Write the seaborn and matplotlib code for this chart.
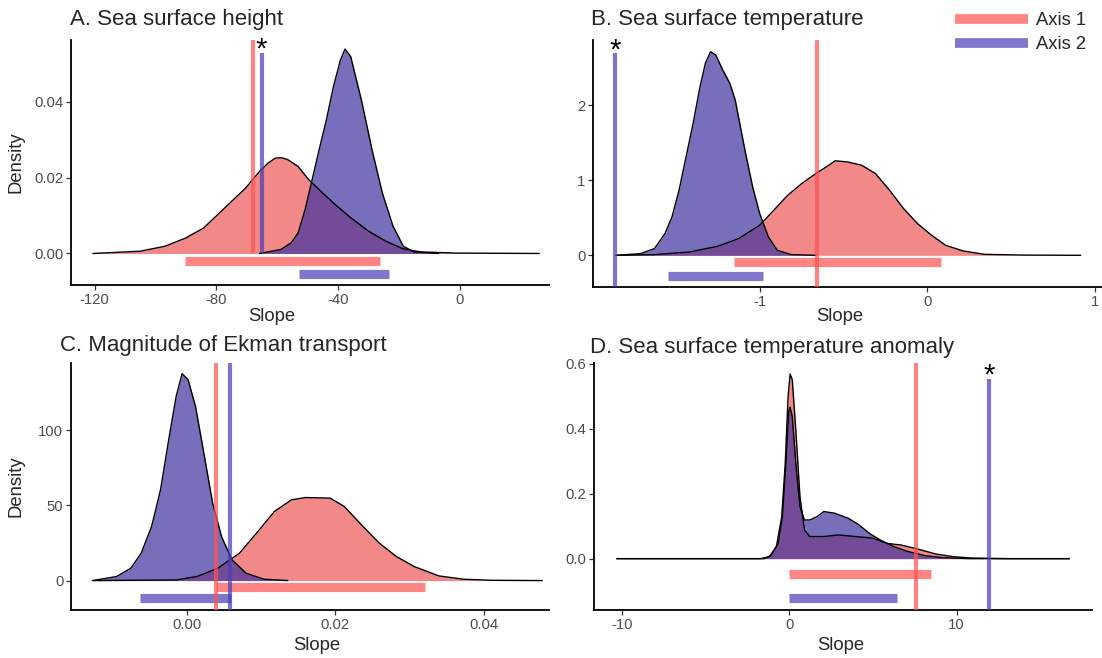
import matplotlib
matplotlib.use("Agg")
import matplotlib.pyplot as plt
import pandas as pd
import seaborn as sns
from matplotlib.lines import Line2D

sns.set_style("ticks")
plt.rcParams["font.family"] = ["Liberation Sans", "DejaVu Sans"]
plt.rcParams["axes.unicode_minus"] = False

AXIS1_COLOR = "#F06A6A"
AXIS2_COLOR = "#3D31A0"
AXIS1_LINE = "#FF5252"
AXIS2_LINE = "#4A3DB8"
series_names = ["Axis 1", "Axis 2"]

# ---------------- A. Sea surface height ----------------
a_slope_1 = [-120.6, -105.0, -96.9, -90.0, -84.2, -79.6, -75.0, -70.4, -65.8, -63.0,
             -60.6, -58.5, -56.5, -53.1, -49.6, -45.0, -41.5, -35.8, -30.0, -24.2,
             -18.5, -12.7, -1.2, 26.2]
a_dens_1 = [0.0, 0.0006, 0.0019, 0.0041, 0.0067, 0.0102, 0.0137, 0.0172, 0.0216, 0.0238,
            0.0251, 0.0252, 0.0247, 0.0229, 0.0194, 0.0159, 0.0133, 0.0094, 0.0059, 0.0032,
            0.0012, 0.0004, 0.0001, 0.0]
a_slope_2 = [-65.8, -58.8, -55.4, -53.1, -50.8, -48.5, -46.2, -43.8, -41.5, -39.2,
             -37.7, -35.8, -32.3, -28.8, -25.4, -21.9, -18.5, -15.0, -6.9]
a_dens_2 = [0.0, 0.00105, 0.0028, 0.0054, 0.0116, 0.0194, 0.0273, 0.0352, 0.0439, 0.0509,
            0.0538, 0.0518, 0.0404, 0.0273, 0.0159, 0.0072, 0.0019, 0.0004, 0.0]
a_estimate = [-68.1, -65.1]
a_estimate_top = [0.0565, 0.0528]
a_interval_1 = [-90.4, -26.2]
a_interval_2 = [-52.8, -23.1]
a_xticks = [-120, -80, -40, 0]
a_xticklabels = ["-120", "-80", "-40", "0"]
a_yticks = [0.0, 0.02, 0.04]
a_yticklabels = ["0.00", "0.02", "0.04"]

# ---------------- B. Sea surface temperature ----------------
b_slope_1 = [-1.858, -1.628, -1.418, -1.251, -1.126, -1.0, -0.916, -0.833, -0.749, -0.665,
             -0.603, -0.550, -0.477, -0.393, -0.310, -0.226, -0.142, -0.059, 0.025, 0.109,
             0.213, 0.339, 0.569, 0.914]
b_dens_1 = [0.0, 0.009, 0.044, 0.12, 0.222, 0.4, 0.6, 0.8, 0.956, 1.089,
            1.178, 1.258, 1.244, 1.2, 1.089, 0.867, 0.622, 0.422, 0.267, 0.133,
            0.058, 0.013, 0.003, 0.0]
b_slope_2 = [-1.858, -1.711, -1.628, -1.565, -1.523, -1.481, -1.439, -1.397, -1.356, -1.324,
             -1.293, -1.262, -1.220, -1.178, -1.146, -1.115, -1.084, -1.042, -1.0, -0.948,
             -0.895, -0.812, -0.665]
b_dens_2 = [0.0, 0.022, 0.089, 0.289, 0.511, 0.867, 1.311, 1.756, 2.244, 2.556,
            2.711, 2.667, 2.467, 2.289, 2.067, 1.711, 1.356, 0.911, 0.556, 0.244,
            0.067, 0.009, 0.0]
b_estimate = [-0.661, -1.864]
b_estimate_top = [2.876, 2.689]
b_interval_1 = [-1.153, 0.082]
b_interval_2 = [-1.548, -0.983]
b_xticks = [-1, 0, 1]
b_xticklabels = ["-1", "0", "1"]
b_yticks = [0, 1, 2]
b_yticklabels = ["0", "1", "2"]

# ---------------- C. Magnitude of Ekman transport ----------------
c_slope_1 = [-0.0126, -0.0014, 0.0014, 0.0042, 0.0071, 0.0094, 0.0118, 0.0141, 0.0160, 0.0193,
             0.0212, 0.0235, 0.0259, 0.0282, 0.0306, 0.0339, 0.0372, 0.0409, 0.0478]
c_dens_1 = [0.0, 0.4, 2.7, 8.2, 18.2, 31.6, 46.0, 53.8, 55.3, 54.9,
            49.3, 37.1, 24.9, 16.0, 9.3, 3.1, 0.9, 0.2, 0.0]
c_slope_2 = [-0.0126, -0.0094, -0.0075, -0.0061, -0.0047, -0.0035, -0.0024, -0.0014, -0.0006, 0.0002,
             0.0012, 0.0024, 0.0035, 0.0047, 0.0061, 0.0080, 0.0104, 0.0136]
c_dens_2 = [0.0, 2.7, 8.2, 18.2, 36.0, 60.4, 93.8, 122.7, 137.8, 133.8,
            116.0, 82.7, 51.6, 29.3, 13.8, 4.9, 0.9, 0.0]
c_estimate = [0.0039, 0.0058]
c_estimate_top = [145.0, 145.0]
c_interval_1 = [0.0039, 0.0320]
c_interval_2 = [-0.0062, 0.0060]
c_xticks = [0.0, 0.02, 0.04]
c_xticklabels = ["0.00", "0.02", "0.04"]
c_yticks = [0, 50, 100]
c_yticklabels = ["0", "50", "100"]

# ---------------- D. Sea surface temperature anomaly ----------------
d_slope_1 = [-10.33, -1.72, -1.20, -0.78, -0.46, -0.25, -0.08, 0.04, 0.17, 0.38,
             0.63, 0.90, 1.22, 2.06, 2.90, 3.95, 5.00, 5.83, 6.67, 7.72,
             8.77, 9.82, 10.87, 12.97, 16.75]
d_dens_1 = [0.0, 0.0, 0.006, 0.037, 0.129, 0.294, 0.499, 0.568, 0.551, 0.397,
            0.191, 0.088, 0.068, 0.068, 0.073, 0.068, 0.063, 0.047, 0.042, 0.029,
            0.014, 0.006, 0.002, 0.0, 0.0]
d_slope_2 = [-10.33, -1.51, -1.09, -0.67, -0.42, -0.21, -0.04, 0.04, 0.17, 0.38,
             0.63, 0.90, 1.22, 1.64, 2.06, 2.69, 3.53, 4.16, 4.78, 5.41,
             6.25, 7.09, 8.14, 9.19, 10.87, 16.75]
d_dens_2 = [0.0, 0.0, 0.010, 0.047, 0.129, 0.294, 0.453, 0.466, 0.438, 0.294,
            0.160, 0.119, 0.119, 0.129, 0.145, 0.140, 0.124, 0.104, 0.078, 0.058,
            0.037, 0.022, 0.009, 0.003, 0.0, 0.0]
d_estimate = [7.56, 11.92]
d_estimate_top = [0.602, 0.553]
d_interval_1 = [0.0, 8.46]
d_interval_2 = [0.0, 6.42]
d_xticks = [-10, 0, 10]
d_xticklabels = ["-10", "0", "10"]
d_yticks = [0.0, 0.2, 0.4, 0.6]
d_yticklabels = ["0.0", "0.2", "0.4", "0.6"]

W, H = 1102, 658
fig = plt.figure(figsize=(W / 100, H / 100), dpi=100)


def px_rect(left, top, right, bottom):
    return [left / W, 1 - bottom / H, (right - left) / W, (bottom - top) / H]


panels = [
    dict(title="A. Sea surface height", rect=px_rect(71, 40, 549, 285),
         xlim=(-127.8, 29.4), ylim=(-0.0083, 0.0562),
         curves=[(a_slope_1, a_dens_1), (a_slope_2, a_dens_2)],
         est=a_estimate, est_top=a_estimate_top, est_from_zero=True, star=1,
         intervals=[a_interval_1, a_interval_2], bar_y=[-0.0020, -0.0055],
         xt=(a_xticks, a_xticklabels), yt=(a_yticks, a_yticklabels),
         title_xy=(70, 20), ylabel=True, xlabel_xy=(272, 317), legend=False),
    dict(title="B. Sea surface temperature", rect=px_rect(593, 40, 1102, 287),
         xlim=(-1.994, 1.041), ylim=(-0.422, 2.867),
         curves=[(b_slope_1, b_dens_1), (b_slope_2, b_dens_2)],
         est=b_estimate, est_top=b_estimate_top, est_from_zero=False, star=1,
         intervals=[b_interval_1, b_interval_2], bar_y=[-0.089, -0.28],
         xt=(b_xticks, b_xticklabels), yt=(b_yticks, b_yticklabels),
         title_xy=(591, 20), ylabel=False, xlabel_xy=(840, 317), legend=True),
    dict(title="C. Magnitude of Ekman transport", rect=px_rect(71, 363, 549, 610),
         xlim=(-0.01553, 0.0487), ylim=(-19.6, 144.9),
         curves=[(c_slope_1, c_dens_1), (c_slope_2, c_dens_2)],
         est=c_estimate, est_top=c_estimate_top, est_from_zero=False, star=None,
         intervals=[c_interval_1, c_interval_2], bar_y=[-4.4, -11.8],
         xt=(c_xticks, c_xticklabels), yt=(c_yticks, c_yticklabels),
         title_xy=(60, 345), ylabel=True, xlabel_xy=(317, 645), legend=False),
    dict(title="D. Sea surface temperature anomaly", rect=px_rect(594, 363, 1092, 610),
         xlim=(-11.69, 18.1), ylim=(-0.158, 0.602),
         curves=[(d_slope_1, d_dens_1), (d_slope_2, d_dens_2)],
         est=d_estimate, est_top=d_estimate_top, est_from_zero=False, star=1,
         intervals=[d_interval_1, d_interval_2], bar_y=[-0.047, -0.122],
         xt=(d_xticks, d_xticklabels), yt=(d_yticks, d_yticklabels),
         title_xy=(590, 347), ylabel=False, xlabel_xy=(841, 645), legend=False),
]

fill_alpha = [0.8, 0.7]
colors = [AXIS1_COLOR, AXIS2_COLOR]
line_colors = [AXIS1_LINE, AXIS2_LINE]

for p in panels:
    ax = fig.add_axes(p["rect"])
    ax.set_xlim(*p["xlim"])
    ax.set_ylim(*p["ylim"])
    # density curves: Axis 1 first, Axis 2 over it
    for (xs, ys), col, al in zip(p["curves"], colors, fill_alpha):
        df = pd.DataFrame({"Slope": xs, "Density": ys})
        ax.fill_between(df["Slope"], 0, df["Density"], color=col, alpha=al,
                        linewidth=0, zorder=2)
        sns.lineplot(data=df, x="Slope", y="Density", ax=ax, color="black",
                     linewidth=1.0, sort=False, estimator=None, zorder=3)
    # posterior interval bars
    for (lo, hi), yb, col in zip(p["intervals"], p["bar_y"], line_colors):
        ax.hlines(yb, lo, hi, color=col, alpha=0.7, linewidth=6.6, zorder=4)
    # point estimates as vertical lines
    ybase = 0 if p["est_from_zero"] else p["ylim"][0]
    for xe, top, col in zip(p["est"], p["est_top"], line_colors):
        ax.vlines(xe, ybase, top, color=col, alpha=0.72, linewidth=3.0, zorder=5)
    if p["star"] is not None:
        i = p["star"]
        ax.annotate("*", xy=(p["est"][i], p["est_top"][i]), xytext=(0, -3.5),
                    textcoords="offset points", ha="center", va="baseline",
                    fontsize=21, color="black", zorder=6, annotation_clip=False)
    ax.set_xticks(p["xt"][0])
    ax.set_xticklabels(p["xt"][1])
    ax.set_yticks(p["yt"][0])
    ax.set_yticklabels(p["yt"][1])
    ax.set_xlabel("")
    ax.set_ylabel("")
    ax.tick_params(axis="both", labelsize=10.7, labelcolor="#4D4D4D", color="#333333",
                   length=3.5, width=0.9, pad=2)
    sns.despine(ax=ax)
    for s in ("left", "bottom"):
        ax.spines[s].set_linewidth(1.3)
        ax.spines[s].set_color("black")
    ax.set_facecolor("white")
    fig.text(p["title_xy"][0] / W, 1 - p["title_xy"][1] / H, p["title"],
             fontsize=16, ha="left", va="center")
    fig.text(p["xlabel_xy"][0] / W, 1 - p["xlabel_xy"][1] / H, "Slope",
             fontsize=13.3, ha="center", va="center")
    if p["ylabel"]:
        cy = (p["rect"][1] + p["rect"][3] / 2)
        fig.text(16 / W, cy, "Density", fontsize=13.3, rotation=90,
                 ha="center", va="center")
    if p["legend"]:
        handles = [Line2D([0], [0], color=c, alpha=0.7, linewidth=7,
                          solid_capstyle="butt") for c in line_colors]
        fig.legend(handles, series_names, loc="upper left",
                   bbox_to_anchor=(955 / W, 1 - 12 / H), frameon=False,
                   fontsize=13.2, handlelength=4.0, handletextpad=0.4,
                   labelspacing=0.4, borderpad=0, borderaxespad=0)

fig.savefig("out.png", dpi=100, facecolor="white")
